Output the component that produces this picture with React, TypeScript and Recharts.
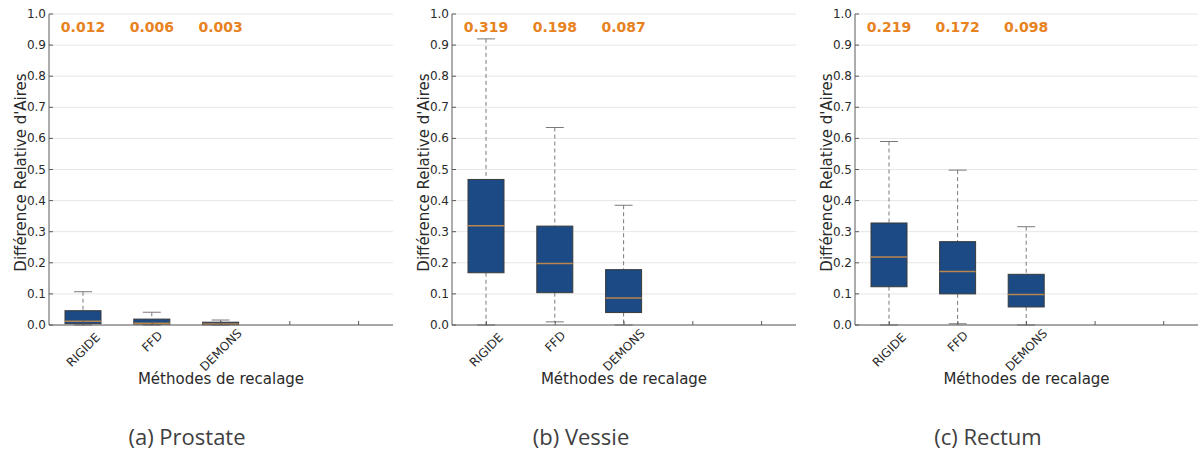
import React from 'react';
import { ComposedChart, Bar, XAxis, YAxis, CartesianGrid } from 'recharts';

// ---- data ----
const categories = ['RIGIDE', 'FFD', 'DEMONS', '', ''];
const yTicks = [0, 0.1, 0.2, 0.3, 0.4, 0.5, 0.6, 0.7, 0.8, 0.9, 1.0];

const prostateMin = [0, 0, 0];
const prostateQ1 = [0.004, 0.003, 0.001];
const prostateMedian = [0.012, 0.006, 0.003];
const prostateQ3 = [0.046, 0.019, 0.009];
const prostateMax = [0.107, 0.041, 0.016];
const prostateLabels = ['0.012', '0.006', '0.003'];

const vessieMin = [0, 0.01, 0];
const vessieQ1 = [0.168, 0.104, 0.04];
const vessieMedian = [0.319, 0.198, 0.087];
const vessieQ3 = [0.468, 0.318, 0.178];
const vessieMax = [0.92, 0.635, 0.385];
const vessieLabels = ['0.319', '0.198', '0.087'];

const rectumMin = [0, 0.004, 0];
const rectumQ1 = [0.123, 0.1, 0.058];
const rectumMedian = [0.219, 0.172, 0.098];
const rectumQ3 = [0.328, 0.268, 0.163];
const rectumMax = [0.59, 0.498, 0.316];
const rectumLabels = ['0.219', '0.172', '0.098'];

const captions = ['(a) Prostate', '(b) Vessie', '(c) Rectum'];
const yLabel = "Différence Relative d'Aires";
const xLabel = 'Méthodes de recalage';

// ---- styles ----
const LABEL_LEVEL = 0.958;
const BOX_FILL = '#1b4a84';
const BOX_EDGE = '#3a3a3a';
const MEDIAN = '#b8864e';
const WHISKER = '#7a7a7a';
const ORANGE = '#e8821e';
const FRAME = '#5a5a5a';
const TEXT = '#2a2a2a';
const FONT = "'DejaVu Sans', sans-serif";

function buildRows(mins: number[], q1: number[], med: number[], q3: number[], maxs: number[], labels: string[]) {
  return categories.map((c, i) =>
    i < mins.length
      ? { cat: c, range: [mins[i], maxs[i]], q1: q1[i], med: med[i], q3: q3[i], lo: mins[i], hi: maxs[i], label: labels[i] }
      : { cat: c, range: null }
  );
}

const BoxShape = (props: any) => {
  const { x, y, width, height, payload } = props;
  if (!payload || !payload.range) return null;
  const lo = payload.lo, hi = payload.hi;
  const top = Math.min(y, y + height);
  const bot = Math.max(y, y + height);
  const py = (v: number) => bot - ((bot - top) * (v - lo)) / (hi - lo);
  const cx = x + width / 2;
  const capW = width / 2;
  const yq1 = py(payload.q1), yq3 = py(payload.q3), ymed = py(payload.med);
  return (
    <g>
      <line x1={cx} x2={cx} y1={py(hi)} y2={yq3} stroke={WHISKER} strokeDasharray="4 3" />
      <line x1={cx} x2={cx} y1={yq1} y2={py(lo)} stroke={WHISKER} strokeDasharray="4 3" />
      <line x1={cx - capW / 2} x2={cx + capW / 2} y1={py(hi)} y2={py(hi)} stroke={WHISKER} />
      <line x1={cx - capW / 2} x2={cx + capW / 2} y1={py(lo)} y2={py(lo)} stroke={WHISKER} />
      <rect x={x} y={yq3} width={width} height={Math.max(yq1 - yq3, 0.5)} fill={BOX_FILL} stroke={BOX_EDGE} strokeWidth={1} />
      <line x1={x} x2={x + width} y1={ymed} y2={ymed} stroke={MEDIAN} strokeWidth={1.5} />
      <text x={cx} y={py(LABEL_LEVEL)} textAnchor="middle" dominantBaseline="central" fill={ORANGE}
        fontWeight="bold" fontSize={14} fontFamily={FONT}>{payload.label}</text>
    </g>
  );
};

const LeftTick = (props: any) => {
  const { x, y, payload } = props;
  const ax = x + 3;
  return (
    <g>
      <text x={x} y={y} textAnchor="end" dominantBaseline="central" fontSize={12} fill={TEXT} fontFamily={FONT}>
        {Number(payload.value).toFixed(1)}
      </text>
      <line x1={ax} x2={ax + 4} y1={y} y2={y} stroke={FRAME} />
    </g>
  );
};

const RightTick = (props: any) => {
  const { x, y } = props;
  return <line x1={x} x2={x - 4} y1={y} y2={y} stroke={FRAME} />;
};

const TopTick = (props: any) => {
  const { x, y } = props;
  return <line x1={x} x2={x} y1={y} y2={y + 4} stroke={FRAME} />;
};

const BottomTick = (props: any) => {
  const { x, y, payload } = props;
  const label = String(payload.value ?? '');
  const fs = 12;
  const w = label.length * 0.66 * fs;
  const cy = y + 4 + ((w + fs) * 0.707) / 2;
  return (
    <g>
      <line x1={x} x2={x} y1={y} y2={y - 4} stroke={FRAME} />
      {label ? (
        <text x={x} y={cy} textAnchor="middle" dominantBaseline="central" fontSize={fs} fill={TEXT}
          fontFamily={FONT} transform={`rotate(-45, ${x}, ${cy})`}>{label}</text>
      ) : null}
    </g>
  );
};

const Panel = ({ rows, left, width, marginLeft, marginRight }: any) => (
  <div style={{ position: 'absolute', left, top: 0 }}>
    <ComposedChart width={width} height={400} data={rows}
      margin={{ top: 14, right: marginRight, bottom: 15, left: marginLeft }}>
      <CartesianGrid vertical={false} stroke="#e6e6e6" />
      <XAxis dataKey="cat" type="category" interval={0} height={60} tickLine={false} tickSize={0} tickMargin={0}
        axisLine={{ stroke: FRAME }} tick={<BottomTick />}
        label={{
          content: ({ viewBox }: any) => (
            <text x={viewBox.x + viewBox.width / 2} y={viewBox.y + 59} textAnchor="middle" fontSize={15}
              fill={TEXT} fontFamily={FONT}>{xLabel}</text>
          ),
        }} />
      <XAxis xAxisId="top" dataKey="cat" type="category" orientation="top" interval={0} height={0}
        tickLine={false} tickSize={0} tickMargin={0} axisLine={{ stroke: FRAME }} tick={<TopTick />} />
      <YAxis domain={[0, 1]} ticks={yTicks} type="number" width={40} tickLine={false} tickSize={0} tickMargin={3}
        axisLine={{ stroke: FRAME }} tick={<LeftTick />} interval={0}
        label={{
          content: ({ viewBox }: any) => {
            const cx = viewBox.x + viewBox.width - 28;
            const cy = viewBox.y + viewBox.height / 2 + 3;
            return (
              <text x={cx} y={cy} textAnchor="middle" dominantBaseline="central" fontSize={15} fill={TEXT}
                fontFamily={FONT} transform={`rotate(-90, ${cx}, ${cy})`}>{yLabel}</text>
            );
          },
        }} />
      <YAxis yAxisId="right" orientation="right" domain={[0, 1]} ticks={yTicks} type="number" width={0}
        tickLine={false} tickSize={0} tickMargin={0} axisLine={{ stroke: FRAME }} tick={<RightTick />} interval={0} />
      <Bar dataKey="range" barSize={36} shape={<BoxShape />} isAnimationActive={false} />
    </ComposedChart>
  </div>
);

export default function App() {
  const panels = [
    { rows: buildRows(prostateMin, prostateQ1, prostateMedian, prostateQ3, prostateMax, prostateLabels), left: 0, width: 400, marginLeft: 9, marginRight: 7, cap: 187 },
    { rows: buildRows(vessieMin, vessieQ1, vessieMedian, vessieQ3, vessieMax, vessieLabels), left: 400, width: 400, marginLeft: 12, marginRight: 4, cap: 581 },
    { rows: buildRows(rectumMin, rectumQ1, rectumMedian, rectumQ3, rectumMax, rectumLabels), left: 800, width: 399, marginLeft: 15, marginRight: 1, cap: 988 },
  ];
  return (
    <div style={{ position: 'absolute', left: 0, top: 0, width: 1199, height: 452, background: '#fff', overflow: 'hidden' }}>
      {panels.map((p, i) => (
        <React.Fragment key={i}>
          <Panel rows={p.rows} left={p.left} width={p.width} marginLeft={p.marginLeft} marginRight={p.marginRight} />
          <div style={{
            position: 'absolute', left: p.cap - 100, width: 200, top: 420, height: 32, lineHeight: '32px',
            textAlign: 'center', fontSize: 22, color: '#404040',
            fontFamily: "'Liberation Sans Narrow', 'Open Sans', sans-serif",
          }}>{captions[i]}</div>
        </React.Fragment>
      ))}
    </div>
  );
}
